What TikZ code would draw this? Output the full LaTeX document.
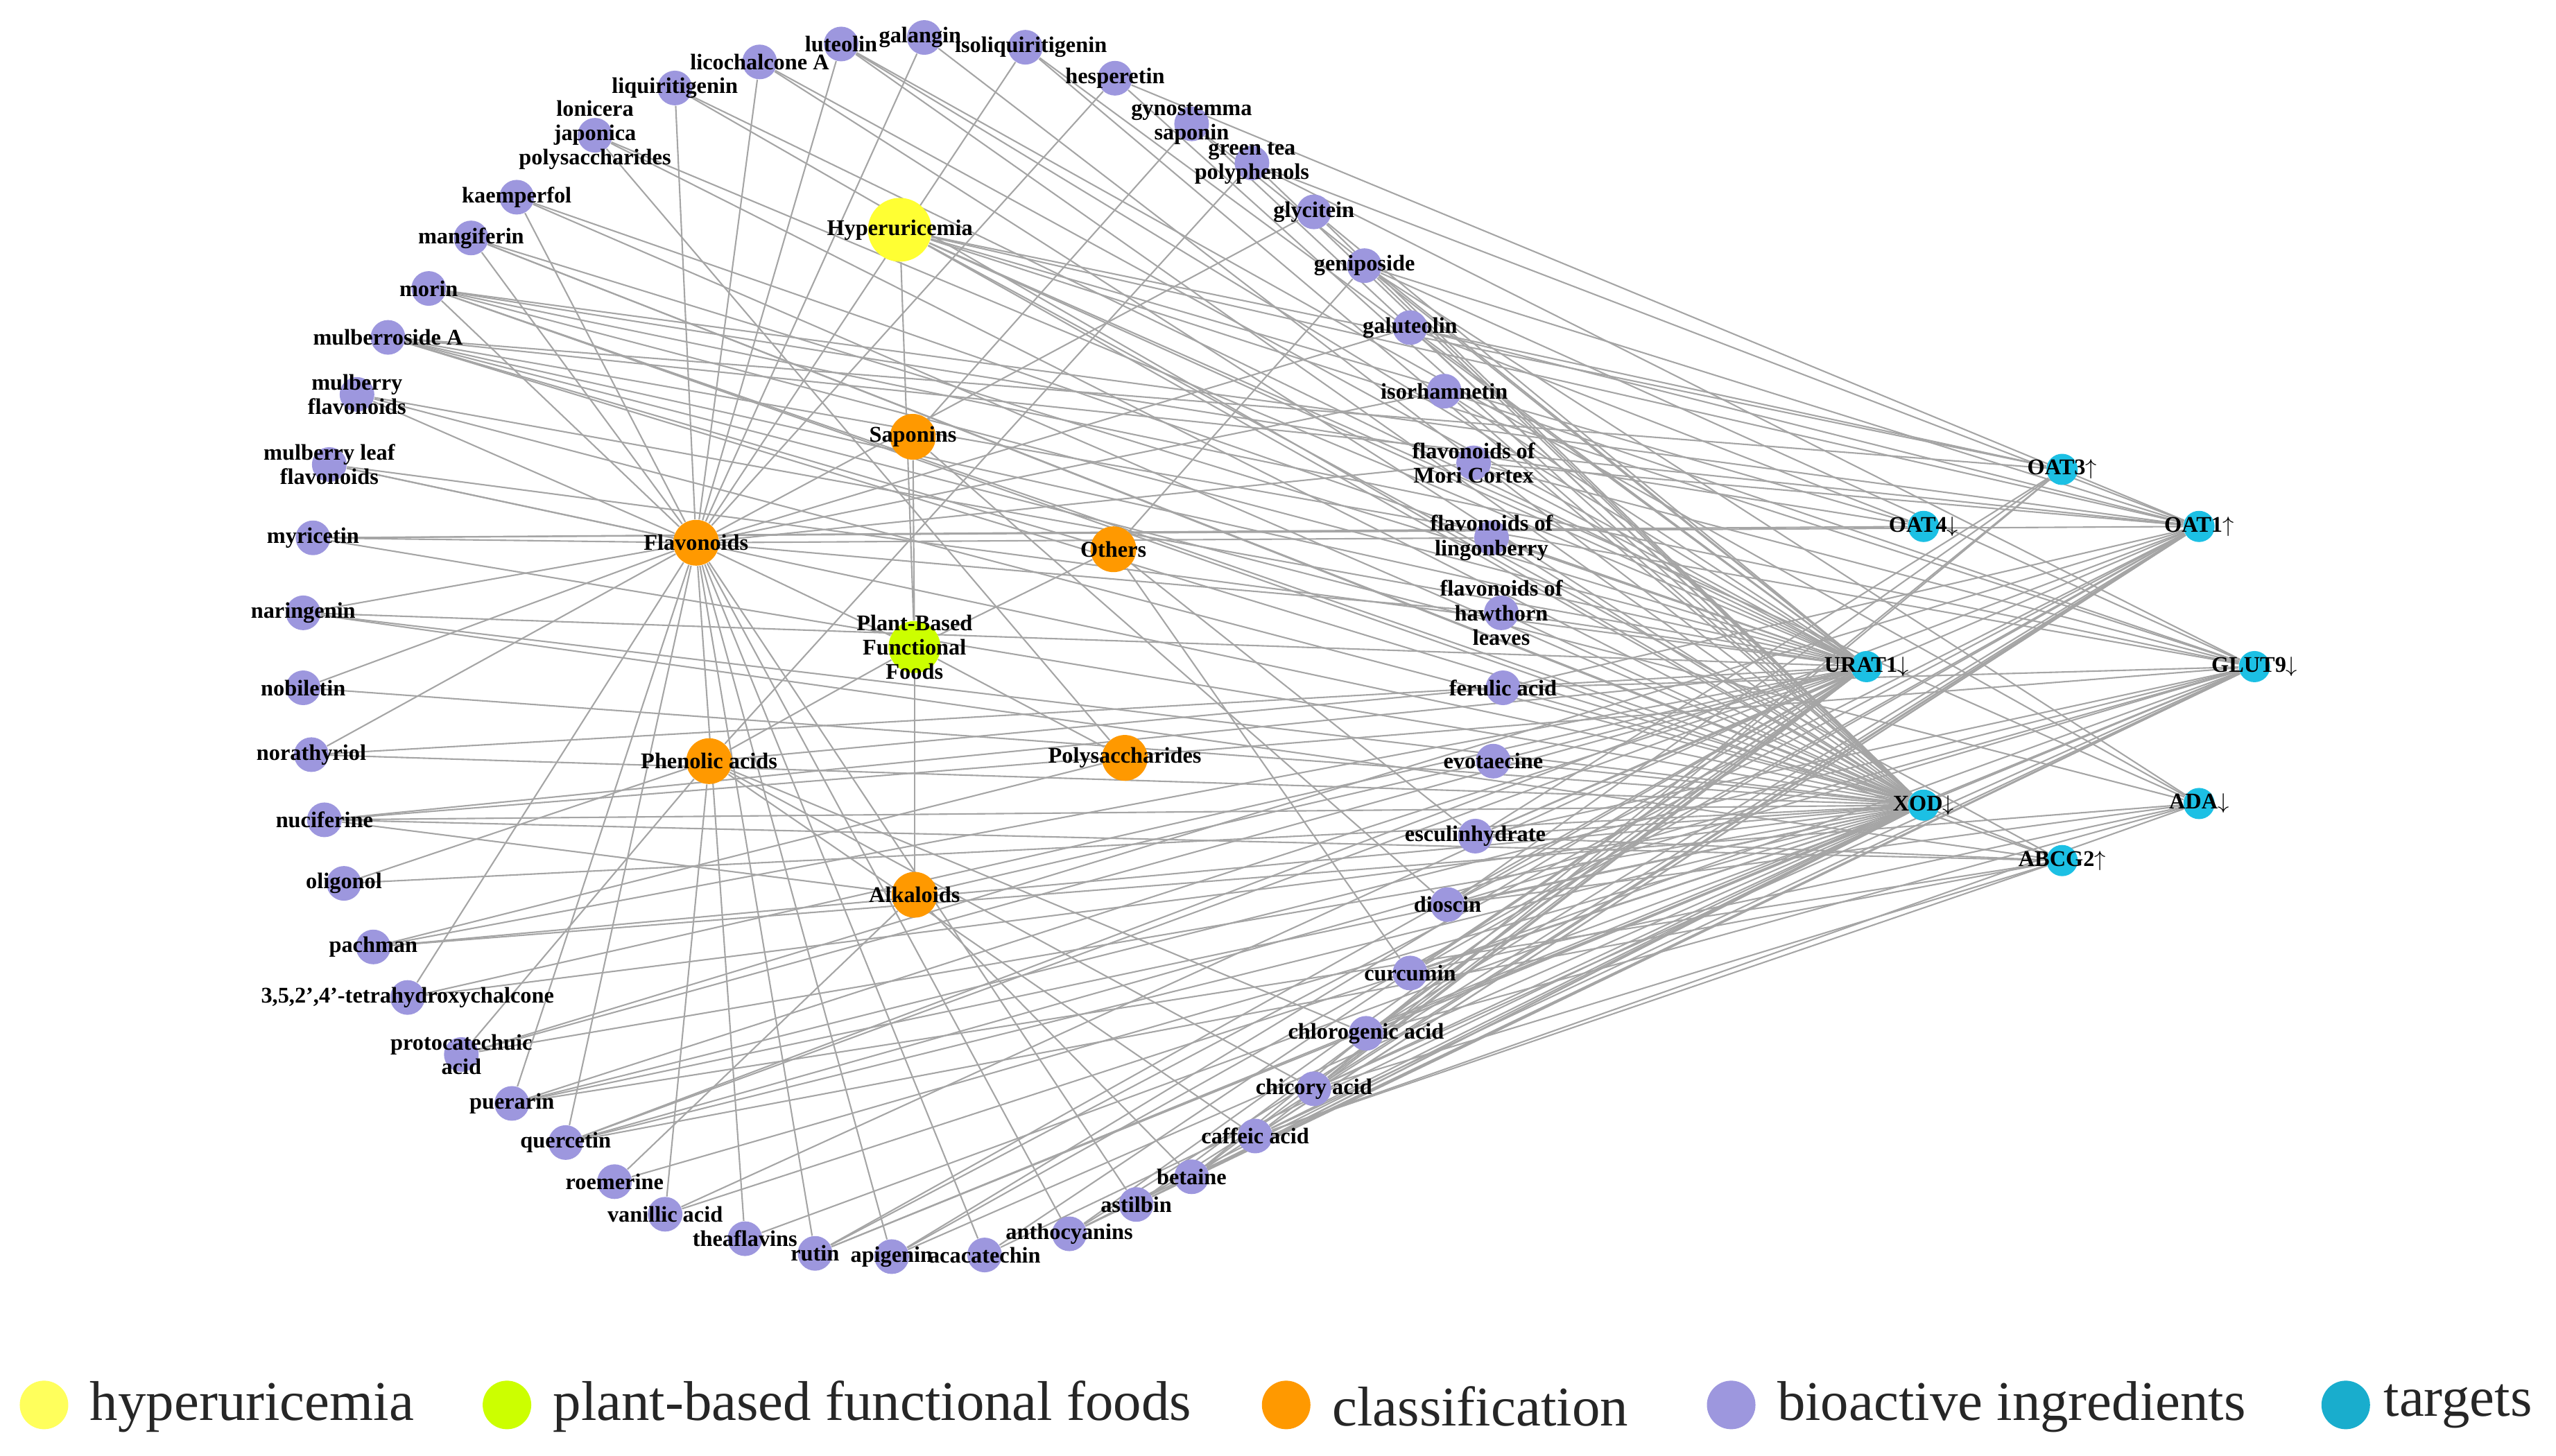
\documentclass[tikz,border=0pt]{standalone}
\usepackage{fontspec}
\setmainfont{Liberation Serif}
\usetikzlibrary{backgrounds}
\definecolor{hypc}{RGB}{255,255,51}
\definecolor{pbfc}{RGB}{204,255,0}
\definecolor{clsc}{RGB}{255,153,0}
\definecolor{ingc}{RGB}{157,151,222}
\definecolor{tgtc}{RGB}{28,192,228}
\definecolor{edgec}{RGB}{165,165,165}
\begin{document}
\begin{tikzpicture}[x=0.23508mm, y=-0.23508mm,
  lbl/.style = {font=\fontsize{9.2}{10}\selectfont\bfseries, align=center, inner sep=0pt},
  hyp/.style = {circle, fill=hypc, minimum size=0.92cm, inner sep=0pt, label={[lbl]center:#1}},
  pbf/.style = {circle, fill=pbfc, minimum size=0.75cm, inner sep=0pt, label={[lbl]center:#1}},
  cls/.style = {circle, fill=clsc, minimum size=0.66cm, inner sep=0pt, label={[lbl]center:#1}},
  dot/.style = {circle, fill=ingc, minimum size=0.5cm, inner sep=0pt},
  ing/.style = {dot, label={[lbl]center:#1}},
  tgt/.style = {circle, fill=tgtc, minimum size=0.45cm, inner sep=0pt, label={[lbl]center:#1}},
  link/.style = {draw=edgec, line width=0.6pt},
  key/.style = {circle, minimum size=0.7cm, inner sep=0pt},
  keytext/.style = {anchor=west, font=\fontsize{23}{26}\selectfont, text=black!85, inner sep=0pt}]

\useasboundingbox (0,0) rectangle (1568,893);

% hubs
\node[hyp={Hyperuricemia}] (hyper) at (552,141) {};
\node[pbf={Plant-Based\\Functional\\Foods}] (pbf) at (561,397) {};
\node[cls={Saponins}] (sapo) at (560,268) {};
\node[cls={Flavonoids}] (flavo) at (427,333) {};
\node[cls={Others}] (others) at (683,337) {};
\node[cls={Phenolic acids}] (phen) at (435,467) {};
\node[cls={Polysaccharides}] (poly) at (690,465) {};
\node[cls={Alkaloids}] (alka) at (561,549) {};

% bioactive ingredients
\node[ing={luteolin}] (lute) at (516,27) {};
\node[dot, label={[lbl, xshift=-0.6mm]center:galangin}] (gala) at (567,23) {};
\node[dot, label={[lbl, xshift=0.8mm]center:isoliquiritigenin}] (isoliq) at (629,29) {};
\node[ing={hesperetin}] (hesp) at (684,48) {};
\node[ing={gynostemma\\saponin}] (gyno) at (731,76) {};
\node[ing={green tea\\polyphenols}] (gtea) at (768,100) {};
\node[ing={glycitein}] (glyc) at (806,130) {};
\node[ing={geniposide}] (geni) at (837,163) {};
\node[ing={galuteolin}] (galu) at (865,201) {};
\node[ing={isorhamnetin}] (isorh) at (886,240) {};
\node[ing={flavonoids of\\Mori Cortex}] (morico) at (904,284) {};
\node[ing={flavonoids of\\lingonberry}] (lingo) at (915,330) {};
\node[ing={flavonoids of\\hawthorn\\leaves}] (hawth) at (921,376) {};
\node[ing={ferulic acid}] (feru) at (922,422) {};
\node[ing={evotaecine}] (evot) at (916,467) {};
\node[ing={esculinhydrate}] (escu) at (905,513) {};
\node[ing={dioscin}] (dios) at (888,555) {};
\node[ing={curcumin}] (curc) at (865,597) {};
\node[ing={chlorogenic acid}] (chlor) at (838,634) {};
\node[ing={chicory acid}] (chic) at (806,668) {};
\node[ing={caffeic acid}] (caff) at (770,697) {};
\node[ing={betaine}] (beta) at (731,722) {};
\node[ing={astilbin}] (asti) at (697,739) {};
\node[ing={anthocyanins}] (antho) at (656,757) {};
\node[ing={acacatechin}] (acat) at (604,770) {};
\node[ing={apigenin}] (apig) at (547,771) {};
\node[ing={rutin}] (rutin) at (500,769) {};
\node[ing={theaflavins}] (thea) at (457,760) {};
\node[ing={vanillic acid}] (vani) at (408,745) {};
\node[ing={roemerine}] (roem) at (377,725) {};
\node[ing={quercetin}] (quer) at (347,701) {};
\node[ing={puerarin}] (puer) at (314,677) {};
\node[ing={protocatechuic\\acid}] (proto) at (283,647) {};
\node[ing={3,5,2',4'-tetrahydroxychalcone}] (tetra) at (250,612) {};
\node[ing={pachman}] (pach) at (229,581) {};
\node[ing={oligonol}] (oligo) at (211,542) {};
\node[ing={nuciferine}] (nuci) at (199,503) {};
\node[ing={norathyriol}] (nora) at (191,463) {};
\node[ing={nobiletin}] (nobi) at (186,422) {};
\node[ing={naringenin}] (nari) at (186,376) {};
\node[ing={myricetin}] (myri) at (192,330) {};
\node[ing={mulberry leaf\\flavonoids}] (mleaf) at (202,285) {};
\node[ing={mulberry\\flavonoids}] (mflav) at (219,242) {};
\node[ing={mulberroside A}] (mside) at (238,207) {};
\node[ing={morin}] (morin) at (263,177) {};
\node[ing={mangiferin}] (mang) at (289,146) {};
\node[ing={kaemperfol}] (kaem) at (317,121) {};
\node[ing={lonicera\\japonica\\polysaccharides}] (loni) at (365,83) {};
\node[ing={liquiritigenin}] (liqu) at (414,54) {};
\node[ing={licochalcone A}] (lico) at (466,38) {};

% targets
\node[tgt={OAT3$\uparrow$}] (oat3) at (1265,288) {};
\node[tgt={OAT4$\downarrow$}] (oat4) at (1180,323) {};
\node[tgt={OAT1$\uparrow$}] (oat1) at (1349,323) {};
\node[tgt={URAT1$\downarrow$}] (urat1) at (1145,409) {};
\node[tgt={GLUT9$\downarrow$}] (glut9) at (1383,409) {};
\node[tgt={XOD$\downarrow$}] (xod) at (1180,494) {};
\node[tgt={ADA$\downarrow$}] (ada) at (1349,493) {};
\node[tgt={ABCG2$\uparrow$}] (abcg2) at (1265,528) {};

\begin{pgfonlayer}{background}
\draw[link] (hyper) -- (pbf);
\foreach \t in {oat3,oat4,oat1,urat1,glut9,xod,ada,abcg2}
  \draw[link] (hyper) -- (\t);
\foreach \c in {flavo,sapo,others,phen,poly,alka}
  \draw[link] (pbf) -- (\c);
\foreach \i in {lute,gala,isoliq,hesp,glyc,galu,isorh,morico,lingo,hawth,asti,antho,acat,apig,rutin,thea,quer,puer,tetra,nobi,nari,myri,mleaf,mflav,morin,kaem,liqu,lico,nora,mang}
  \draw[link] (flavo) -- (\i);
\foreach \i in {gyno,dios}
  \draw[link] (sapo) -- (\i);
\foreach \i in {feru,chlor,chic,caff,vani,proto,gtea,oligo}
  \draw[link] (phen) -- (\i);
\foreach \i in {nuci,roem,beta,evot}
  \draw[link] (alka) -- (\i);
\foreach \i in {loni,pach}
  \draw[link] (poly) -- (\i);
\foreach \i in {geni,curc,escu,mside}
  \draw[link] (others) -- (\i);
% ingredient -> target
\foreach \s/\tl in {lute/{xod,urat1,ada}, gala/{xod}, isoliq/{xod,urat1}, hesp/{xod,oat1},
    gyno/{xod,urat1}, gtea/{xod,oat1,glut9}, glyc/{xod,urat1}, geni/{xod,urat1,glut9,oat1,ada},
    galu/{xod,urat1,oat1,oat3,oat4}, isorh/{xod,urat1,glut9}, morico/{urat1,glut9,oat1},
    lingo/{xod,urat1}, hawth/{xod,urat1}, feru/{xod,oat1,glut9}, evot/{xod,urat1},
    escu/{xod,urat1,glut9,oat1,oat3,abcg2}, dios/{xod,urat1,glut9,oat1,oat3,ada},
    curc/{xod,urat1,oat1,glut9,ada}, chlor/{xod,urat1,glut9,oat1,ada},
    chic/{xod,urat1,glut9,oat1,oat3,abcg2}, caff/{xod,urat1,glut9,oat1,ada,abcg2},
    beta/{xod,urat1,glut9,oat1,oat3}, asti/{xod,urat1,glut9,oat1}, antho/{xod,urat1,oat1,glut9},
    acat/{xod,urat1}, apig/{xod,urat1,oat1}, rutin/{xod,urat1,glut9,oat1}, thea/{xod},
    vani/{xod,urat1}, roem/{xod}, quer/{xod,urat1,glut9,oat1,abcg2}, puer/{xod,urat1,glut9,abcg2},
    proto/{xod,urat1,oat1}, tetra/{xod,urat1}, pach/{xod,urat1,ada}, oligo/{xod},
    nuci/{xod,urat1,glut9,abcg2}, nora/{xod,urat1}, nobi/{xod}, nari/{xod,urat1,abcg2}, myri/{oat1,oat4,xod},
    mleaf/{xod,urat1}, mflav/{xod,urat1}, mside/{xod,urat1,glut9,oat1,oat3,ada},
    morin/{xod,urat1,glut9,oat1,oat4,abcg2}, mang/{xod,urat1,abcg2}, kaem/{xod,urat1}, loni/{xod,urat1},
    liqu/{xod,urat1}, lico/{xod,urat1}}
  {\foreach \t in \tl {\draw[link] (\s) -- (\t);}}
\end{pgfonlayer}

% legend
\node[key, fill=hypc!80] (k1) at (27,862) {};
\node[keytext] (k1t) at (55,863) {hyperuricemia};
\node[key, fill=pbfc] (k2) at (311,862) {};
\node[keytext] (k2t) at (339,863) {plant-based functional foods};
\node[key, fill=clsc] (k3) at (789,862) {};
\node[keytext] (k3t) at (817,863) {classification};
\node[key, fill=ingc] (k4) at (1062,862) {};
\node[keytext] (k4t) at (1090,863) {bioactive ingredients};
\node[key, fill=tgtc!90!black] (k5) at (1439,862) {};
\node[keytext] (k5t) at (1462,863) {targets};
\end{tikzpicture}
\end{document}
